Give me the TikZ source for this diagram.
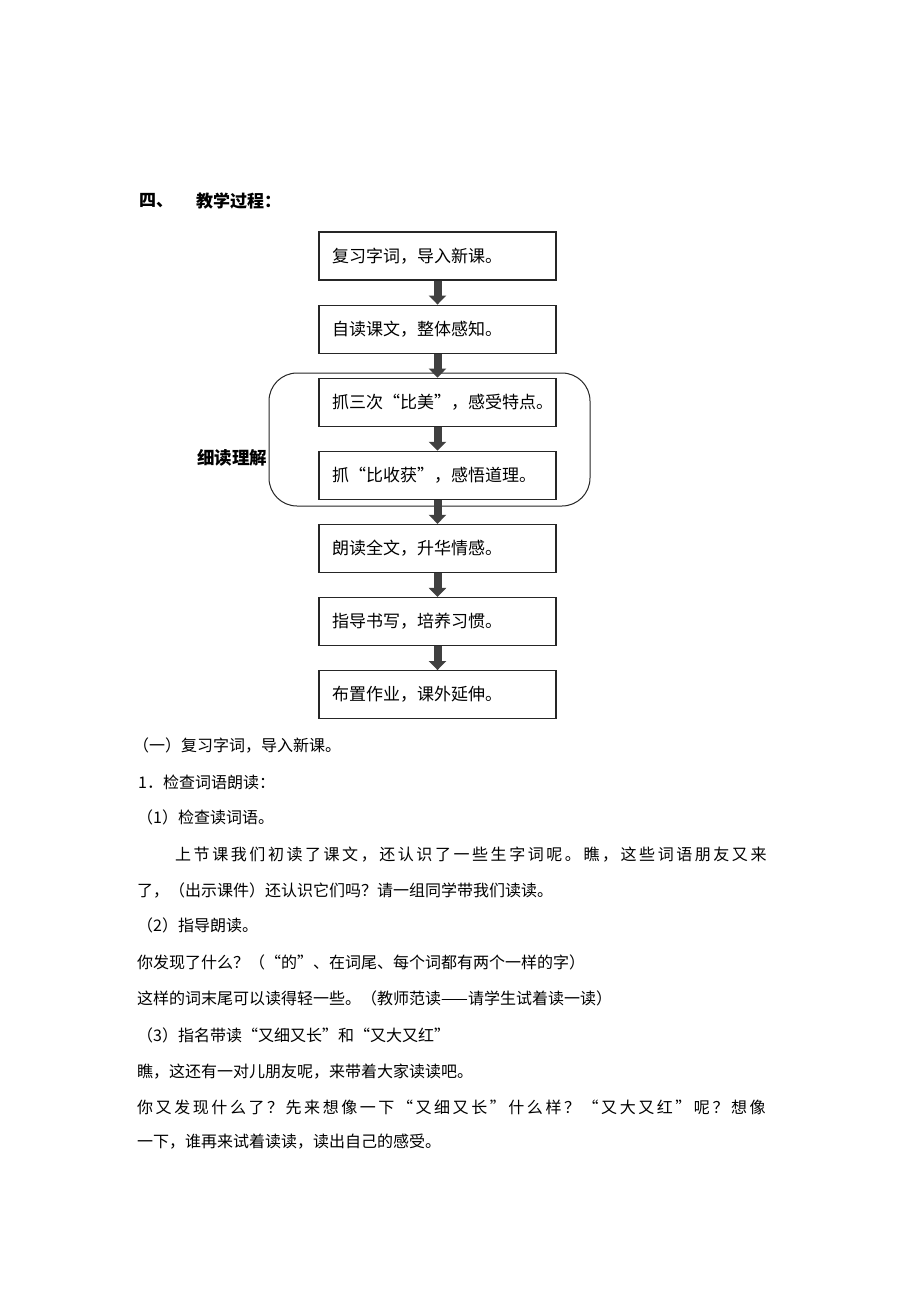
\documentclass[tikz,border=0pt]{standalone}
\usepackage{fontspec}
\setmainfont{Noto Sans CJK SC}
\newfontfamily\widefont[LetterSpace=16]{Noto Sans CJK SC}
\usetikzlibrary{positioning,arrows.meta}

\begin{document}
\begin{tikzpicture}[x=1pt, y=-1pt, node distance=24pt,
    stepbox/.style={shape=rectangle, draw=black!85, line width=1.1pt, text width=211pt,
      inner xsep=13pt, minimum height=48pt, align=left, font=\fontsize{17}{20}\selectfont},
    flow/.style={line width=8pt, draw=black!75, -{Triangle[width=17pt,length=9pt]}},
    textline/.style={anchor=west, inner sep=0pt, font=\fontsize{16}{18}\selectfont}]
    \useasboundingbox (0,0) rectangle (920,1302);
    \fill[white] (0,0) rectangle (920,1302);
    % heading
    \node[textline, font=\fontsize{17}{18}\selectfont\bfseries] (num) at (139,201) {四、};
    \node[textline, font=\fontsize{17}{18}\selectfont\bfseries] (title) at (196,201) {教学过程：};
    % flow chart
    \node[draw=black!85, line width=1pt, rounded corners=28pt, minimum width=321pt,
      minimum height=133pt, inner sep=0pt] (group) at (429.5,439.5) {};
    \node[stepbox] (b1) at (437.5,256) {复习字词，导入新课。};
    \node[stepbox, below=of b1] (b2) {自读课文，整体感知。};
    \node[stepbox, below=of b2] (b3) {抓三次“比美”，感受特点。};
    \node[stepbox, below=of b3] (b4) {抓“比收获”，感悟道理。};
    \node[stepbox, below=of b4] (b5) {朗读全文，升华情感。};
    \node[stepbox, below=of b5] (b6) {指导书写，培养习惯。};
    \node[stepbox, below=of b6] (b7) {布置作业，课外延伸。};
    \node[anchor=east, inner sep=1pt, font=\fontsize{17.5}{18}\selectfont\bfseries] (label)
      at ([yshift=-18.5pt]group.west) {细读理解};
    \foreach \a/\b in {b1/b2, b2/b3, b3/b4, b4/b5, b5/b6, b6/b7}
      \draw[flow] (\a) -- (\b);
    % text below
    \node[textline] (t1) at (133,745) {（一）复习字词，导入新课。};
    \node[textline] (t2) at (138,782) {1．检查词语朗读：};
    \node[textline] (t3) at (137,817) {（1）检查读词语。};
    \node[textline, font=\fontsize{16}{18}\widefont] (t4) at (175,855) {上节课我们初读了课文，还认识了一些生字词呢。瞧，这些词语朋友又来};
    \node[textline] (t5) at (137,890) {了，（出示课件）还认识它们吗？请一组同学带我们读读。};
    \node[textline] (t6) at (137,925) {（2）指导朗读。};
    \node[textline] (t7) at (137,962) {你发现了什么？（“的”、在词尾、每个词都有两个一样的字）};
    \node[textline] (t8) at (137,998) {这样的词末尾可以读得轻一些。（教师范读——请学生试着读一读）};
    \node[textline] (t9) at (137,1035) {（3）指名带读“又细又长”和“又大又红”};
    \node[textline] (t10) at (137,1072) {瞧，这还有一对儿朋友呢，来带着大家读读吧。};
    \node[textline, font=\fontsize{16}{18}\widefont] (t11) at (137,1107) {你又发现什么了？先来想像一下“又细又长”什么样？“又大又红”呢？想像};
    \node[textline] (t12) at (137,1142) {一下，谁再来试着读读，读出自己的感受。};
\end{tikzpicture}
\end{document}
